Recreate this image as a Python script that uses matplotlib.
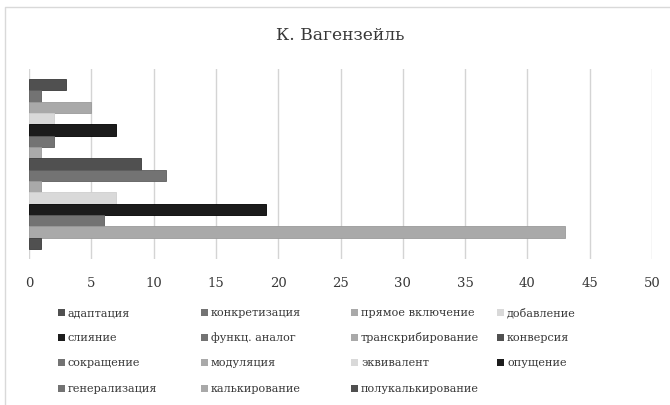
import matplotlib
matplotlib.use("Agg")
import matplotlib.pyplot as plt
from matplotlib.patches import Rectangle
from matplotlib.lines import Line2D

# Translation techniques and counts, listed top to bottom
techniques = [
    "адаптация", "конкретизация", "прямое включение", "добавление",
    "слияние", "функц. аналог", "транскрибирование", "конверсия",
    "сокращение", "модуляция", "эквивалент", "опущение",
    "генерализация", "калькирование", "полукалькирование",
]
counts = [3, 1, 5, 2, 7, 2, 1, 9, 11, 1, 7, 19, 6, 43, 1]

# Repeating grey palette
palette = ["#505050", "#737373", "#a9a9a9", "#d9d9d9", "#1c1c1c",
           "#737373", "#a9a9a9", "#505050", "#737373", "#a9a9a9",
           "#d9d9d9", "#1c1c1c", "#737373", "#a9a9a9", "#505050"]
edges = ["#3a3a3a", "#5e5e5e", "#9a9a9a", "#cfcfcf", "#000000",
         "#5e5e5e", "#9a9a9a", "#3a3a3a", "#5e5e5e", "#9a9a9a",
         "#cfcfcf", "#000000", "#5e5e5e", "#9a9a9a", "#3a3a3a"]

xticks = [0, 5, 10, 15, 20, 25, 30, 35, 40, 45, 50]
title = "К. Вагензейль"

plt.rcParams["font.family"] = ["DejaVu Serif"]
W, H = 670, 406
fig = plt.figure(figsize=(W / 100, H / 100), dpi=100)

ax = fig.add_axes([29 / W, 1 - 260 / H, (652 - 29) / W, (260 - 70) / H])
ypos = list(range(len(counts)))
ax.barh(ypos, counts, height=1.0, color=palette, edgecolor=edges, linewidth=0.6, zorder=3)
pad = 0.88
ax.set_ylim(len(counts) - 0.5 + pad, -0.5 - pad)
ax.set_xlim(0, 50)
ax.set_xticks(xticks)
ax.set_xticklabels([str(t) for t in xticks], fontsize=9.5, color="#383838")
ax.tick_params(axis="x", length=0, pad=12)
ax.set_yticks([])
ax.grid(axis="x", color="#d4d4d4", linewidth=1.0, zorder=0)
for s in ax.spines.values():
    s.set_visible(False)

fig.text(340 / W, 1 - 35 / H, title, ha="center", va="center", fontsize=12.3, color="#383838")

# Outer frame (left and top edges)
fig.add_artist(Line2D([5 / W, 5 / W, 1.0], [0.0, 1 - 8 / H, 1 - 8 / H],
                      transform=fig.transFigure, color="#d9d9d9", linewidth=1.0))

# Legend laid out row by row in four columns
col_x = [58, 201, 351, 497]
row_y = [313, 338, 363, 389]
for i, (name, c) in enumerate(zip(techniques, palette)):
    r, k = divmod(i, 4)
    x, y = col_x[k], row_y[r]
    fig.add_artist(Rectangle((x / W, 1 - (y + 3.5) / H), 7 / W, 7 / H,
                             transform=fig.transFigure, facecolor=c, edgecolor="none"))
    fig.text((x + 10) / W, 1 - y / H, name, ha="left", va="center",
             fontsize=8.1, color="#383838")

fig.savefig("out.png", dpi=100)
